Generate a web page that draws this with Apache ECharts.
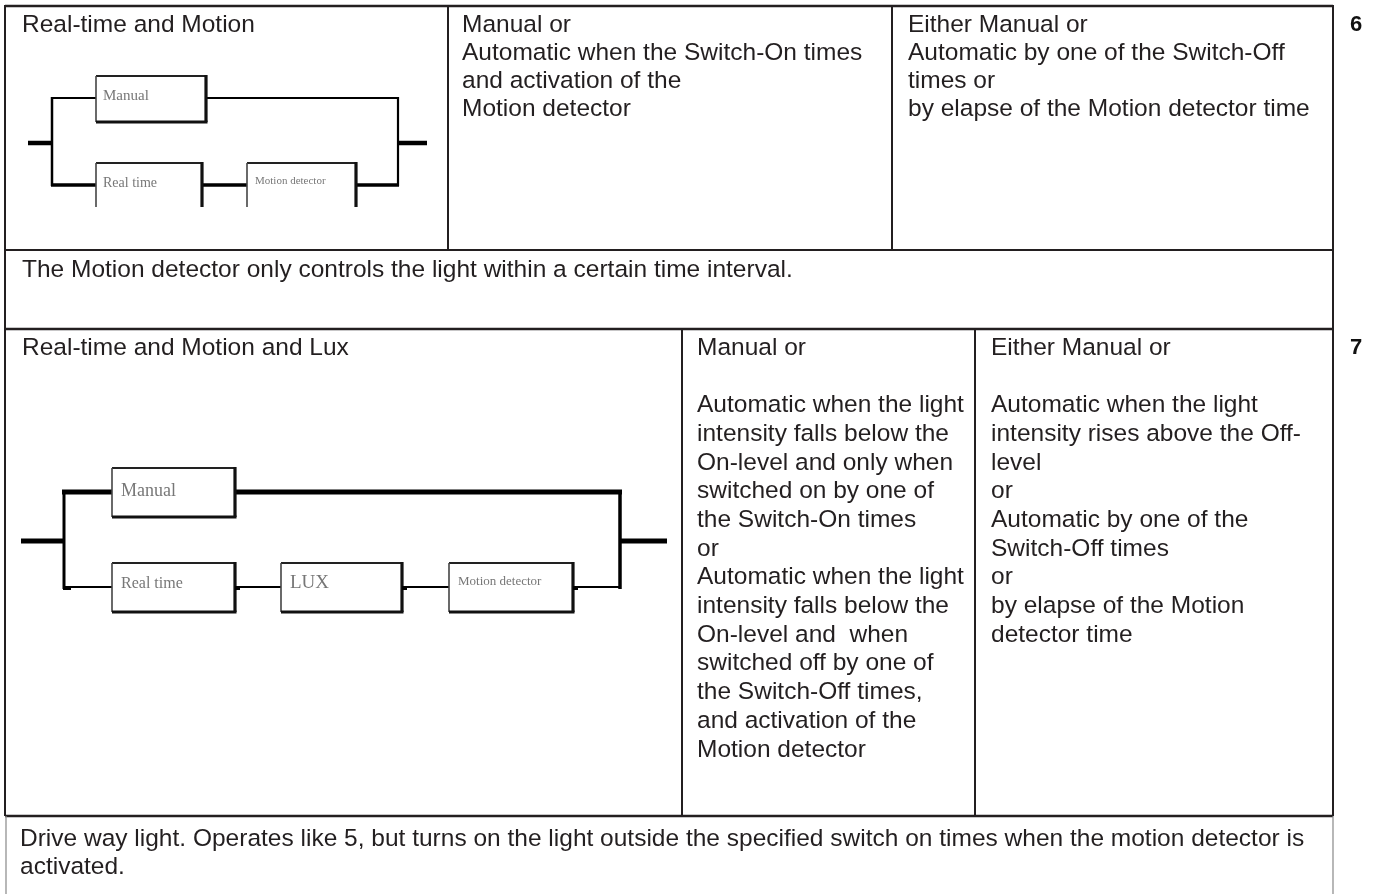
<!DOCTYPE html>
<html><head><meta charset="utf-8">
<script src="https://cdn.jsdelivr.net/npm/echarts@6/dist/echarts.min.js"></script>
<style>html,body{margin:0;padding:0;background:#fff}#c{width:1375px;height:894px}</style>
</head><body><div id="c"></div>
<script>
// ---- content (text) ----
const rowNumbers = ['6', '7'];
const modeTitles = ['Real-time and Motion', 'Real-time and Motion and Lux'];
const switchOn6 = ['Manual or', 'Automatic when the Switch-On times', 'and activation of the', 'Motion detector'];
const switchOff6 = ['Either Manual or', 'Automatic by one of the Switch-Off', 'times or', 'by elapse of the Motion detector time'];
const note6 = ['The Motion detector only controls the light within a certain time interval.'];
const switchOn7 = ['Manual or', '', 'Automatic when the light', 'intensity falls below the', 'On-level and only when',
  'switched on by one of', 'the Switch-On times', 'or', 'Automatic when the light', 'intensity falls below the',
  'On-level and  when', 'switched off by one of', 'the Switch-Off times,', 'and activation of the', 'Motion detector'];
const switchOff7 = ['Either Manual or', '', 'Automatic when the light', 'intensity rises above the Off-', 'level', 'or',
  'Automatic by one of the', 'Switch-Off times', 'or', 'by elapse of the Motion', 'detector time'];
const note7 = ['Drive way light. Operates like 5, but turns on the light outside the specified switch on times when the motion detector is', 'activated.'];
const blocks6 = ['Manual', 'Real time', 'Motion detector'];
const blocks7 = ['Manual', 'Real time', 'LUX', 'Motion detector'];

// ---- drawing ----
const FONT = '"Liberation Sans", Arial, Helvetica, sans-serif';
const SERIF = '"Liberation Serif", "Times New Roman", serif';
const FS = 24.5, INK = '#231f20';
const els = [];
function line(x1, y1, x2, y2, w, c) {
  els.push({type: 'line', silent: true, shape: {x1, y1, x2, y2}, style: {stroke: c || INK, lineWidth: w || 2}});
}
function dot(x, y, w, h) {
  els.push({type: 'rect', silent: true, shape: {x: x, y: y, width: w, height: h}, style: {fill: '#000'}});
}
function text(str, x, y, size, fam, color, weight, align) {
  els.push({type: 'text', silent: true, x: x, y: y, style: {
    text: str, font: (weight || 'normal') + ' ' + size + 'px ' + fam, fill: color || INK,
    align: align || 'left', verticalAlign: 'middle', textAlign: align || 'left', textVerticalAlign: 'middle'}});
}
function lines(arr, x, y0, lh) { arr.forEach((s, i) => { if (s) text(s, x, y0 + i * lh, FS, FONT); }); }
function box(x1, y1, x2, y2, label, lx, ly, lsize, noBottom) {
  els.push({type: 'rect', silent: true, shape: {x: x1, y: y1, width: x2 - x1, height: y2 - y1}, style: {fill: '#fff'}});
  line(x1, y1, x2, y1, 2, '#222');
  line(x1, y1, x1, y2, 1.6, '#444');
  line(x2, y1 - 1, x2, y2, 3.2, '#111');
  if (!noBottom) line(x1, y2, x2 + 1.5, y2, 3.2, '#111');
  text(label, lx, ly, lsize, SERIF, '#777');
}

const L = 5, R = 1333;
// table grid
line(L, 6, R, 6, 2.5);
line(L, 5, L, 816, 2);
line(R, 5, R, 329, 2);
line(R, 329, R, 816, 2);
line(448, 6, 448, 250, 2);
line(892, 6, 892, 250, 2);
line(L, 250, R, 250, 2);
line(L, 329, R, 329, 2.5);
line(682, 329, 682, 816, 2);
line(975, 329, 975, 816, 2);
line(L, 816, R, 816, 2.5);
line(6, 816, 6, 894, 1.2, '#888');
line(R, 816, R, 894, 1.2, '#888');

// row 6
text(modeTitles[0], 22, 25, FS, FONT);
lines(switchOn6, 462, 25, 28);
lines(switchOff6, 908, 25, 28);
text(rowNumbers[0], 1356, 25, 22, FONT, '#111', 'bold', 'center');
text(note6[0], 22, 270, FS, FONT);

// diagram 6
line(28, 143, 52, 143, 4.5, '#000');
line(398, 143, 427, 143, 4.5, '#000');
line(52, 97, 52, 186, 2.5, '#000');
line(398, 97, 398, 186, 2.2, '#000');
line(51, 98, 96, 98, 2, '#000');
line(206, 98, 399, 98, 2, '#000');
line(51, 185, 96, 185, 3.5, '#000');
line(202, 185, 247, 185, 3.5, '#000');
line(356, 185, 399, 185, 3.5, '#000');
box(96, 76, 206, 122, blocks6[0], 103, 96, 15);
box(96, 163, 202, 207, blocks6[1], 103, 183, 14, true);
box(247, 163, 356, 207, blocks6[2], 255, 181, 11, true);

// row 7
text(modeTitles[1], 22, 348, FS, FONT);
lines(switchOn7, 697, 348, 28.7);
lines(switchOff7, 991, 348, 28.7);
text(rowNumbers[1], 1356, 348, 22, FONT, '#111', 'bold', 'center');
note7.forEach((s, i) => text(s, 20, 839 + i * 28, FS, FONT));

// diagram 7
line(21, 541, 64, 541, 5, '#000');
line(620, 541, 667, 541, 5, '#000');
line(64, 490, 64, 589, 3, '#000');
line(620, 490, 620, 589, 3.5, '#000');
line(62, 492, 112, 492, 5, '#000');
line(235, 492, 622, 492, 5, '#000');
line(64, 587, 112, 587, 1.8, '#000');
line(235, 587, 281, 587, 1.8, '#000');
line(402, 587, 449, 587, 1.8, '#000');
line(573, 587, 620, 587, 1.8, '#000');
box(112, 468, 235, 517, blocks7[0], 121, 491, 18);
box(112, 563, 235, 612, blocks7[1], 121, 584, 16);
box(281, 563, 402, 612, blocks7[2], 290, 583, 19);
box(449, 563, 573, 612, blocks7[3], 458, 582, 13);
dot(63, 586, 8, 4);
dot(235, 586, 5, 4);
dot(402, 586, 5, 4);
dot(573, 586, 5, 4);

const chart = echarts.init(document.getElementById('c'), null, {renderer: 'canvas'});
chart.setOption({backgroundColor: '#fff', animation: false, graphic: {elements: els}});
</script>
</body></html>
